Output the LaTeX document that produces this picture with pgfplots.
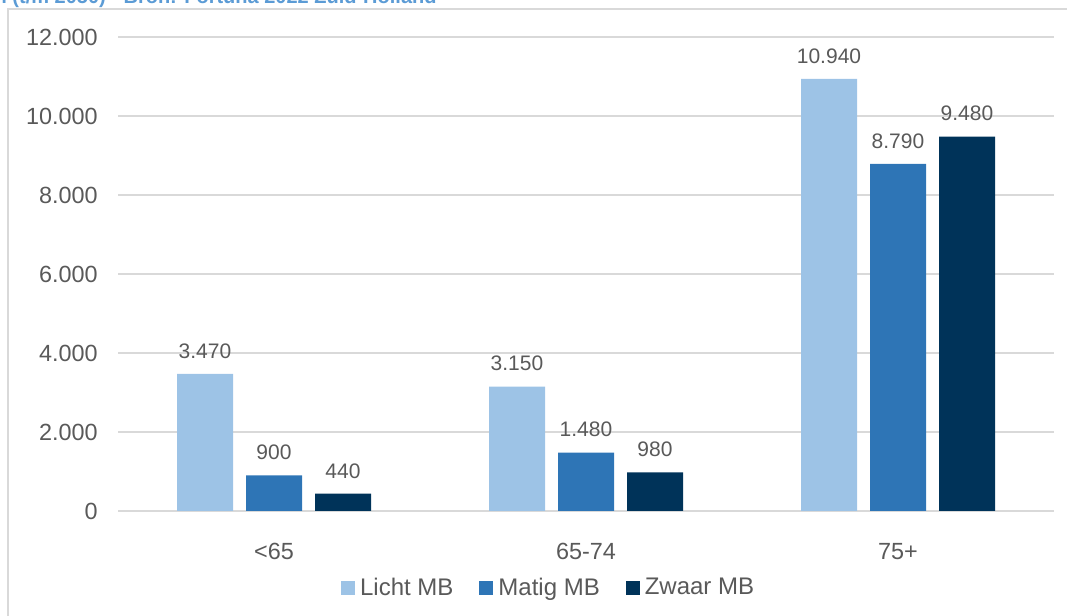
\documentclass[border=0pt]{standalone}
\usepackage{fontspec}
\setmainfont{Liberation Sans}
\usepackage{pgfplots}
\pgfplotsset{compat=1.18}
\definecolor{gridcol}{RGB}{217,217,217}
\definecolor{txt}{RGB}{89,89,89}
\definecolor{cA}{RGB}{157,195,230}
\definecolor{cB}{RGB}{46,117,182}
\definecolor{cC}{RGB}{0,51,89}
\definecolor{ttl}{RGB}{91,155,213}
\begin{document}
\begin{tikzpicture}
\path[use as bounding box] (0,0) rectangle (533.5pt,308pt);
\clip (0,0) rectangle (533.5pt,308pt);
\draw[gridcol, line width=0.8pt] (4pt,-10pt) rectangle (545pt,303.5pt);
\node[anchor=base east, inner sep=0pt, font=\fontsize{10}{12}\selectfont\bfseries, text=ttl] at (218.5pt,306pt) {Aantal mensen met beperkingen (t/m 2050) - Bron: Fortuna 2022 Zuid-Holland};
\begin{axis}[
  at={(59pt,52.5pt)}, anchor=south west,
  scale only axis, width=468pt, height=237pt,
  xmin=-0.5, xmax=2.5, ymin=0, ymax=12000,
  ybar=6.5pt, bar width=28pt,
  xtick={0,1,2}, xticklabels={<65,65-74,75+},
  ytick={0,2000,...,12000},
  axis line style={draw=none},
  major tick length=0pt,
  ymajorgrids, grid style={gridcol, line width=0.8pt},
  /pgf/number format/.cd, 1000 sep={.}, assume math mode=true, /pgfplots/.cd,
  scaled y ticks=false,
  tick label style={font=\fontsize{11.7}{14}\selectfont, text=txt},
  yticklabel style={inner sep=0pt, xshift=-10pt},
  xticklabel style={inner sep=0pt, yshift=-16pt},
  nodes near coords,
  nodes near coords style={font=\fontsize{10.5}{12}\selectfont, text=txt, anchor=south, inner sep=0pt, yshift=7.5pt,
    /pgf/number format/.cd, 1000 sep={.}, fixed, precision=0, assume math mode=true},
  legend columns=3,
  legend style={at={(0.459,-0.1625)}, anchor=center, draw=none, fill=none,
    font=\fontsize{12}{14}\selectfont, text=txt,
    /tikz/every even column/.append style={column sep=13pt},
    /tikz/every odd column/.append style={column sep=2.5pt},
    nodes={inner sep=0pt}},
  legend image code/.code={\fill[#1] (0pt,-3.5pt) rectangle (7pt,3.5pt);},
]
\addplot[fill=cA, draw=none] coordinates {(0,3470) (1,3150) (2,10940)};
\addplot[fill=cB, draw=none] coordinates {(0,900) (1,1480) (2,8790)};
\addplot[fill=cC, draw=none] coordinates {(0,440) (1,980) (2,9480)};
\legend{Licht MB, Matig MB, Zwaar MB}
\end{axis}
\end{tikzpicture}
\end{document}
